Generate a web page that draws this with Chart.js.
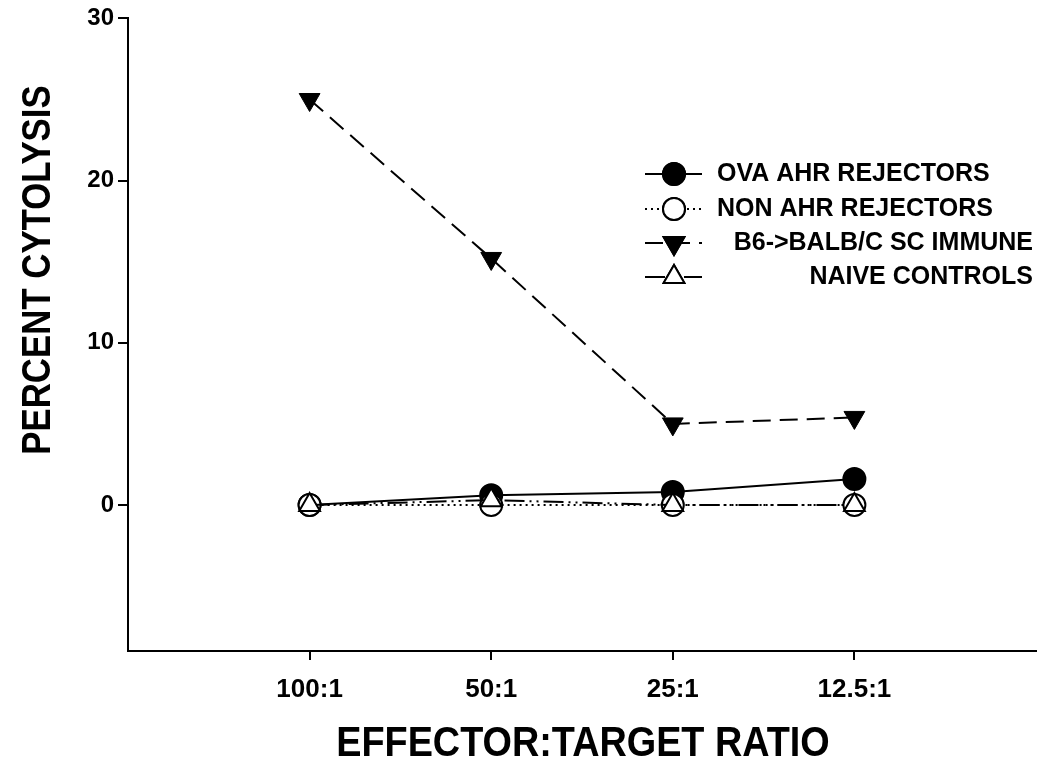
<!DOCTYPE html>
<html lang="en">
<head>
    <meta charset="UTF-8">
    <title>Percent Cytolysis</title>
    <script src="https://cdn.jsdelivr.net/npm/chart.js"></script>
    <style>
        html, body { margin: 0; padding: 0; background: #fff; }
        #wrap { width: 1050px; height: 775px; }
    </style>
</head>
<body>
    <div id="wrap"><canvas id="cyto"></canvas></div>

    <script>
        // data
        const ratios = ['100:1', '50:1', '25:1', '12.5:1'];
        const ovaAhr = [0, 0.6, 0.8, 1.6];
        const nonAhr = [0, 0, 0, 0];
        const b6Immune = [25, 15.2, 5.0, 5.4];
        const naive = [0, 0.3, 0, 0];
        const yTicks = [0, 10, 20, 30];

        const seriesNames = ['OVA AHR REJECTORS', 'NON AHR REJECTORS', 'B6->BALB/C SC IMMUNE', 'NAIVE CONTROLS'];

        const toPoints = arr => arr.map((v, i) => ({ x: i, y: v }));
        const sans = '"Liberation Sans", Arial, sans-serif';

        // condensed bold text (no narrow font installed, so squeeze it)
        function narrowText(ctx, text, x, y, size, squeeze, angle) {
            ctx.save();
            ctx.translate(x, y);
            if (angle) ctx.rotate(angle);
            ctx.scale(squeeze, 1);
            ctx.font = 'bold ' + size + 'px ' + sans;
            ctx.textAlign = 'center';
            ctx.textBaseline = 'middle';
            ctx.fillText(text, 0, 0);
            ctx.restore();
        }

        // legend + axis titles drawn by hand, the layout of the original is not the built-in one
        const figureText = {
            id: 'figureText',
            afterDraw(chart) {
                const ctx = chart.ctx;
                ctx.save();
                ctx.fillStyle = '#000';

                narrowText(ctx, 'PERCENT CYTOLYSIS', 39, 270, 40, 0.87, -Math.PI / 2);
                narrowText(ctx, 'EFFECTOR:TARGET RATIO', 583, 744, 42, 0.9, 0);

                // legend
                const rows = [174, 209, 243, 277];
                chart.data.datasets.forEach((ds, i) => {
                    const y = rows[i];
                    ctx.strokeStyle = '#000';
                    ctx.lineWidth = 2;
                    ctx.setLineDash(ds.borderDash || []);
                    ctx.beginPath();
                    ctx.moveTo(645, y);
                    ctx.lineTo(702, y);
                    ctx.stroke();
                    ctx.setLineDash([]);
                    Chart.helpers.drawPoint(ctx, {
                        pointStyle: ds.pointStyle,
                        rotation: ds.pointRotation || 0,
                        radius: ds.pointRadius,
                        borderWidth: ds.pointBorderWidth
                    }, 674, y);
                    ctx.fillStyle = ds.pointBackgroundColor;
                    ctx.strokeStyle = '#000';
                    ctx.fill();
                    ctx.stroke();

                    ctx.fillStyle = '#000';
                    ctx.font = 'bold 25px ' + sans;
                    ctx.textBaseline = 'middle';
                    if (i < 2) {
                        ctx.textAlign = 'left';
                        ctx.fillText(ds.label, 717, y);
                    } else {
                        ctx.textAlign = 'right';
                        ctx.fillText(ds.label, 1033, y);
                    }
                });
                ctx.restore();
            }
        };

        new Chart(document.getElementById('cyto'), {
            type: 'line',
            data: {
                datasets: [{
                    label: seriesNames[0],
                    data: toPoints(ovaAhr),
                    order: 4,
                    borderColor: '#000',
                    borderWidth: 2,
                    pointStyle: 'circle',
                    pointRadius: 11,
                    pointBorderWidth: 2,
                    pointBorderColor: '#000',
                    pointBackgroundColor: '#000'
                }, {
                    label: seriesNames[1],
                    data: toPoints(nonAhr),
                    order: 3,
                    borderColor: '#000',
                    borderWidth: 2,
                    borderDash: [2, 4],
                    pointStyle: 'circle',
                    pointRadius: 11,
                    pointBorderWidth: 2,
                    pointBorderColor: '#000',
                    pointBackgroundColor: '#fff'
                }, {
                    label: seriesNames[2],
                    data: toPoints(b6Immune),
                    order: 2,
                    borderColor: '#000',
                    borderWidth: 2,
                    borderDash: [18, 9],
                    pointStyle: 'triangle',
                    pointRotation: 180,
                    pointRadius: 12,
                    pointBorderWidth: 1,
                    pointBorderColor: '#000',
                    pointBackgroundColor: '#000'
                }, {
                    label: seriesNames[3],
                    data: toPoints(naive),
                    order: 1,
                    borderColor: '#000',
                    borderWidth: 2,
                    borderDash: [20, 5, 2, 5, 2, 5],
                    pointStyle: 'triangle',
                    pointRadius: 12,
                    pointBorderWidth: 2,
                    pointBorderColor: '#000',
                    pointBackgroundColor: '#fff'
                }]
            },
            options: {
                responsive: true,
                maintainAspectRatio: false,
                animation: false,
                layout: { padding: { top: 18, right: 11, left: 0, bottom: 0 } },
                plugins: {
                    legend: { display: false },
                    tooltip: { enabled: false }
                },
                scales: {
                    x: {
                        type: 'linear',
                        min: -1,
                        max: 4,
                        afterBuildTicks: s => { s.ticks = ratios.map((r, i) => ({ value: i })); },
                        afterFit: s => { s.height = 124; },
                        border: { color: '#000', width: 2 },
                        grid: { drawOnChartArea: false, color: '#000', lineWidth: 2, tickLength: 9 },
                        ticks: {
                            color: '#000',
                            padding: 14,
                            font: { family: sans, size: 26, weight: 'bold' },
                            callback: v => ratios[v]
                        }
                    },
                    y: {
                        min: -9,
                        max: 30,
                        afterBuildTicks: s => { s.ticks = yTicks.map(v => ({ value: v })); },
                        afterFit: s => { s.width = 128; },
                        border: { color: '#000', width: 2 },
                        grid: { drawOnChartArea: false, color: '#000', lineWidth: 2, tickLength: 10 },
                        ticks: {
                            color: '#000',
                            padding: 4,
                            font: { family: sans, size: 24, weight: 'bold' }
                        }
                    }
                }
            },
            plugins: [figureText]
        });
    </script>
</body>
</html>
